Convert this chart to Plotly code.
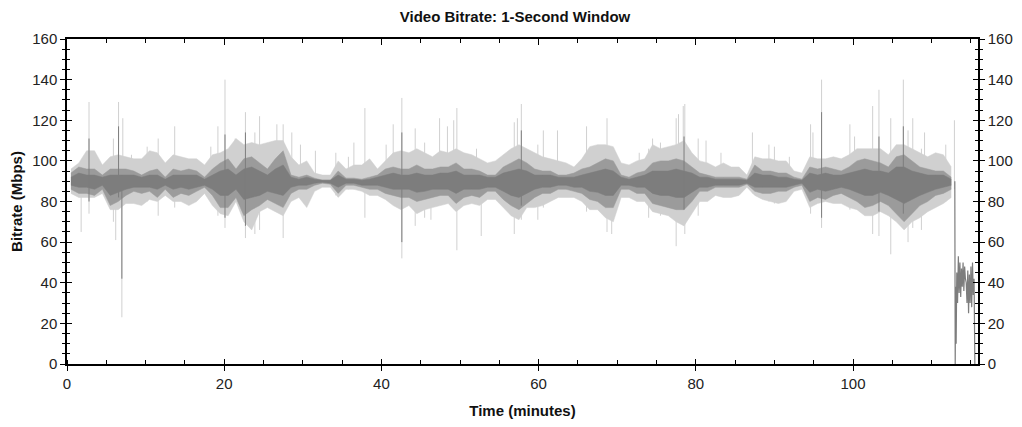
import plotly.graph_objects as go

# ---- data (per-minute envelopes, minute index 0..112) ----
minutes = list(range(113))

# extent of the dark strokes in each minute
dark_hi = [94, 97, 96, 96, 93, 96, 96, 96, 95, 93, 95, 96, 92, 96, 95, 96, 95, 92, 96, 99,
           101, 96, 101, 102, 99, 96, 101, 105, 93, 92, 93, 91.5, 90.5, 90.5, 95, 91.5, 91.5, 91, 92,
           93, 96, 97, 96, 96, 98, 96, 96, 97, 97, 99, 96, 96, 95, 93, 93, 97, 99, 101,
           99, 96, 95, 95, 93, 93, 94, 96, 97, 99, 101, 100, 93, 92, 94, 95, 99, 100, 100, 101,
           100, 97, 94, 93, 92, 92, 92, 92, 91, 98, 95, 95, 94, 94, 92, 91, 97, 96, 97,
           96, 95, 97, 100, 101, 100, 99, 97, 102, 103, 100, 97, 96, 95, 95, 92]
dark_lo = [86, 84, 84, 83, 86, 78, 80, 83, 85, 84, 85, 82, 86, 82, 84, 83, 85, 87, 83, 77,
           77, 82, 73, 76, 78, 81, 79, 77, 84, 86, 86, 88, 89, 88.5, 84, 88, 88, 87, 86,
           86, 84, 83, 82, 82, 80, 81, 82, 83, 83, 79, 82, 83, 82, 85, 85, 81, 78, 76,
           79, 82, 84, 84, 86, 86, 85, 84, 81, 80, 77, 77, 86, 86, 84, 84, 79, 78, 77, 76,
           76, 80, 85, 85, 87, 87, 87, 87, 88.5, 85, 84, 84, 85, 85, 87, 88, 80, 82, 81,
           83, 84, 82, 80, 77, 78, 80, 78, 74, 70, 74, 78, 80, 83, 84, 86]
# solid dark core in each minute
core_hi = [92, 94, 93, 93, 92, 93, 93, 93, 93, 92, 93, 93, 91, 93, 93, 93, 93, 91, 93, 95,
           96, 93, 96, 97, 95, 93, 96, 98, 92, 91, 92, 91, 90.5, 90.5, 93, 91, 91, 90.5, 91,
           92, 93, 94, 93, 93, 94, 93, 93, 94, 94, 95, 93, 93, 93, 92, 92, 94, 95, 96,
           95, 93, 93, 93, 92, 92, 92, 93, 94, 95, 96, 95, 92, 91, 92, 93, 95, 95, 95, 96,
           95, 94, 92, 92, 91, 91, 91, 91, 90.5, 94, 93, 93, 92, 92, 91, 90.5, 94, 93, 94,
           93, 93, 94, 95, 96, 95, 95, 94, 97, 97, 95, 94, 93, 93, 93, 91]
core_lo = [88, 87, 87, 86, 88, 83, 84.5, 86, 87, 87, 87, 86, 88, 86, 87, 86, 87, 88, 86, 83,
           83, 86, 81, 82, 83, 85, 84, 83, 87, 88, 88, 89, 89.5, 89, 87, 89, 89, 88, 88,
           88, 87, 86, 86, 86, 84.5, 85, 86, 86, 86, 84, 86, 86, 86, 87, 87, 85, 83, 82,
           84, 86, 87, 87, 88, 88, 87, 87, 85, 84.5, 83, 83, 88, 88, 87, 87, 84, 83, 83, 82,
           82, 84.5, 87, 87, 88, 88, 88, 88, 89, 87, 87, 87, 87, 87, 88, 89, 84.5, 86, 85,
           86, 87, 86, 84.5, 83, 83, 84.5, 83, 81, 79, 81, 83, 84.5, 86, 87, 88]
# extent of the light fuzz in each minute
light_hi = [96, 99, 105, 105, 98, 102, 103, 102, 101, 101, 105, 104, 99, 103, 102, 101, 101, 98, 103, 104,
            106, 111, 108, 109, 108, 109, 110, 110, 102, 98, 100, 94, 93, 93, 100, 96, 98, 98, 101,
            96, 100, 104, 105, 104, 106, 104, 102, 105, 104, 106, 104, 103, 101, 99, 100, 103, 106, 108,
            106, 104, 102, 101, 100, 99, 97, 101, 107, 108, 108, 107, 99, 98, 100, 101, 108, 106, 107, 108,
            110, 104, 100, 99, 97, 99, 97, 97, 93, 102, 101, 101, 100, 100, 95, 94, 102, 101, 101,
            102, 101, 103, 106, 106, 106, 106, 103, 108, 108, 106, 104, 102, 104, 103, 97]
light_lo = [84, 82, 82, 82, 84, 76, 76, 79, 79, 78, 81, 80, 83, 80, 80, 78, 80, 84, 78, 74,
            73, 80, 70, 66, 75, 77, 75, 73, 80, 82, 77, 85, 87, 87, 82, 86, 86, 85, 83,
            83, 81, 78, 76, 78, 74, 76, 77, 78, 79, 75, 78, 79, 78, 81, 81, 77, 73, 71,
            77, 77, 78, 80, 82, 82, 82, 80, 76, 76, 72, 70, 82, 82, 80, 80, 75, 74, 73, 70,
            68, 74, 80, 80, 83, 82, 82, 83, 87, 83, 81, 80, 79, 80, 85, 86, 77, 79, 80,
            79, 79, 77, 76, 73, 73, 75, 73, 70, 66, 70, 72, 75, 77, 79, 82]

# individual spikes (time in minutes, top, bottom), light strokes
spike_t = [1.8, 2.8, 5.9, 6.2, 6.56, 6.98, 7.1, 8.2, 10.2, 11.6, 13.7, 18.3, 19.2,
           20.1, 21.4, 22.7, 23.9, 24.5, 26.7, 27.5, 28.6, 29.7, 31.6, 34.2, 35.8, 36.5, 37.9,
           40.6, 41.5, 42.6, 44.3, 45.5, 46.3, 47.4, 48.4, 49.2, 49.6, 52.1, 52.7, 56.9, 57.3, 57.8,
           59.9, 60.6, 62.4, 66.1, 68.0, 68.7, 69.3, 72.8, 74.0, 74.5, 75.5, 77.5, 77.8,
           78.4, 78.6, 80.3, 81.3, 83.2, 87.2, 89.3, 90.0, 91.9, 94.6, 94.9, 96.0,
           99.6, 100.2, 102.5, 103.3, 104.8, 106.4, 107.0, 107.6, 108.7, 109.1, 111.8, 112.9]
spike_hi = [92, 129, 111, 95, 129, 95, 121, 103, 107, 111, 117, 107, 117,
            140, 111, 124, 114, 122, 118, 118, 114, 108, 105, 104, 102, 109, 126,
            108, 118, 131, 116, 109, 100, 121, 117, 120, 126, 106, 96, 119, 121, 128,
            108, 115, 115, 117, 105, 121, 104, 104, 106, 111, 109, 121, 123,
            127, 128, 111, 110, 104, 114, 108, 107, 102, 118, 114, 140,
            118, 112, 127, 135, 121, 140, 115, 121, 106, 114, 108, 120]
spike_lo = [65, 74, 70, 61, 85, 23, 85, 85, 80, 73, 77, 84, 73,
            67, 80, 62, 64, 66, 78, 62, 82, 84, 86, 83, 86, 86, 72,
            82, 80, 52, 68, 72, 71, 82, 83, 83, 56, 80, 63, 64, 80, 71,
            71, 77, 82, 75, 82, 65, 64, 84, 72, 80, 73, 58, 75,
            74, 64, 73, 82, 84, 84, 80, 79, 84, 74, 82, 67,
            76, 77, 64, 63, 54, 72, 60, 67, 66, 78, 80, 86]

# darker cores of the largest spikes
dspike_t = [2.8, 6.56, 6.98, 20.1, 22.7, 42.6, 57.8, 78.5, 96.0, 103.3, 106.4]
dspike_hi = [111, 117, 93, 113, 114, 114, 115, 112, 124, 112, 117]
dspike_lo = [80, 82, 42, 72, 68, 60, 78, 76, 72, 75, 74]

# the end of the file (credits), 1-second values
tail_t = [112.95, 113.0, 113.05, 113.12, 113.2, 113.3, 113.4, 113.5, 113.6, 113.7, 113.8, 113.9,
          114.0, 114.1, 114.2, 114.3, 114.4, 114.5, 114.6, 114.7, 114.8, 114.9, 115.0, 115.1,
          115.2, 115.3, 115.4, 115.5]
tail_v = [90, 0, 38, 10, 45, 30, 53, 35, 50, 33, 47, 38, 50, 36, 48, 42, 40, 30, 46, 25,
          44, 30, 48, 28, 50, 34, 42, 0]

x_ticks = [0, 20, 40, 60, 80, 100]
y_ticks = [0, 20, 40, 60, 80, 100, 120, 140, 160]

LIGHT = "rgb(208,208,208)"
MID = "rgb(155,155,155)"
DARK = "rgb(125,125,125)"

centers = [m + 0.5 for m in minutes]


def segs(ts, his, los):
    xs, ys = [], []
    for t, h, l in zip(ts, his, los):
        xs += [t, t, None]
        ys += [l, h, None]
    return xs, ys


def band(fig, lo, hi, color):
    fig.add_trace(go.Scatter(x=centers, y=lo, mode="lines", line=dict(width=0.5, color=color),
                             showlegend=False, hoverinfo="skip"))
    fig.add_trace(go.Scatter(x=centers, y=hi, mode="lines", line=dict(width=0.5, color=color),
                             fill="tonexty", fillcolor=color, showlegend=False, hoverinfo="skip"))


fig = go.Figure()
band(fig, light_lo, light_hi, LIGHT)
sx, sy = segs(spike_t, spike_hi, spike_lo)
fig.add_trace(go.Scatter(x=sx, y=sy, mode="lines", line=dict(width=1, color=LIGHT),
                         showlegend=False, hoverinfo="skip"))
band(fig, dark_lo, dark_hi, MID)
band(fig, core_lo, core_hi, DARK)
dx, dy = segs(dspike_t, dspike_hi, dspike_lo)
fig.add_trace(go.Scatter(x=dx, y=dy, mode="lines", line=dict(width=1, color=DARK),
                         showlegend=False, hoverinfo="skip"))
fig.add_trace(go.Scatter(x=tail_t, y=tail_v, mode="lines", line=dict(width=1.2, color=DARK),
                         showlegend=False, hoverinfo="skip"))

# empty traces so the extra tick axes are drawn
fig.add_trace(go.Scatter(x=[None], y=[None], xaxis="x2", yaxis="y2", showlegend=False, hoverinfo="skip"))
fig.add_trace(go.Scatter(x=[None], y=[None], xaxis="x3", yaxis="y3", showlegend=False, hoverinfo="skip"))
fig.add_trace(go.Scatter(x=[None], y=[None], xaxis="x", yaxis="y4", showlegend=False, hoverinfo="skip"))

FONT = "Liberation Sans, Arial, sans-serif"
XR = [0, 115.9]
YR = [0, 160]
common = dict(showgrid=False, zeroline=False, linecolor="black", tickcolor="black", automargin=False)

# the page body adds an 8 px offset; the figure is sized to fit the window
fig.update_layout(
    width=1014, height=419,
    paper_bgcolor="white", plot_bgcolor="white",
    margin=dict(l=59, r=44, t=31, b=63),
    font=dict(family=FONT, size=15, color="#222222"),
    title=dict(text="<b>Video Bitrate: 1-Second Window</b>", x=0.5, xanchor="center",
               y=0.978, yanchor="middle", font=dict(size=15, color="#111111")),
    xaxis=dict(range=XR, tickvals=x_ticks, ticks="outside", ticklen=5, showline=True, linewidth=1.5,
               minor=dict(dtick=5, tick0=0, ticks="inside", ticklen=4, tickcolor="black"),
               title=dict(text="<b>Time (minutes)</b>", standoff=15, font=dict(size=15, color="#111111")),
               **common),
    xaxis2=dict(range=XR, overlaying="x", side="top", tickvals=x_ticks, ticks="inside", ticklen=6,
                showline=True, linewidth=1.5, showticklabels=False, anchor="y2",
                minor=dict(dtick=5, tick0=0, ticks="inside", ticklen=4, tickcolor="black"), **common),
    xaxis3=dict(range=XR, overlaying="x", side="bottom", tickvals=x_ticks, ticks="inside", ticklen=5,
                showline=False, showticklabels=False, anchor="y3", **common),
    yaxis=dict(range=YR, tickvals=y_ticks, ticks="outside", ticklen=5, showline=True, linewidth=1.5,
               minor=dict(dtick=5, tick0=0, ticks="outside", ticklen=3, tickcolor="black"),
               title=dict(text="<b>Bitrate (Mbps)</b>", standoff=14, font=dict(size=15, color="#111111")),
               **common),
    yaxis2=dict(range=YR, overlaying="y", side="right", tickvals=y_ticks, ticks="outside", ticklen=5,
                showline=True, linewidth=1.5, anchor="x2",
                minor=dict(dtick=5, tick0=0, ticks="outside", ticklen=3, tickcolor="black"), **common),
    yaxis3=dict(range=YR, overlaying="y", side="right", tickvals=y_ticks, ticks="inside", ticklen=5,
                showline=False, showticklabels=False, anchor="x3",
                minor=dict(dtick=5, tick0=0, ticks="inside", ticklen=3, tickcolor="black"), **common),
    yaxis4=dict(range=YR, overlaying="y", side="left", tickvals=y_ticks, ticks="inside", ticklen=5,
                showline=False, showticklabels=False, anchor="x",
                minor=dict(dtick=5, tick0=0, ticks="inside", ticklen=3, tickcolor="black"), **common),
)

fig.write_html("out.html")
